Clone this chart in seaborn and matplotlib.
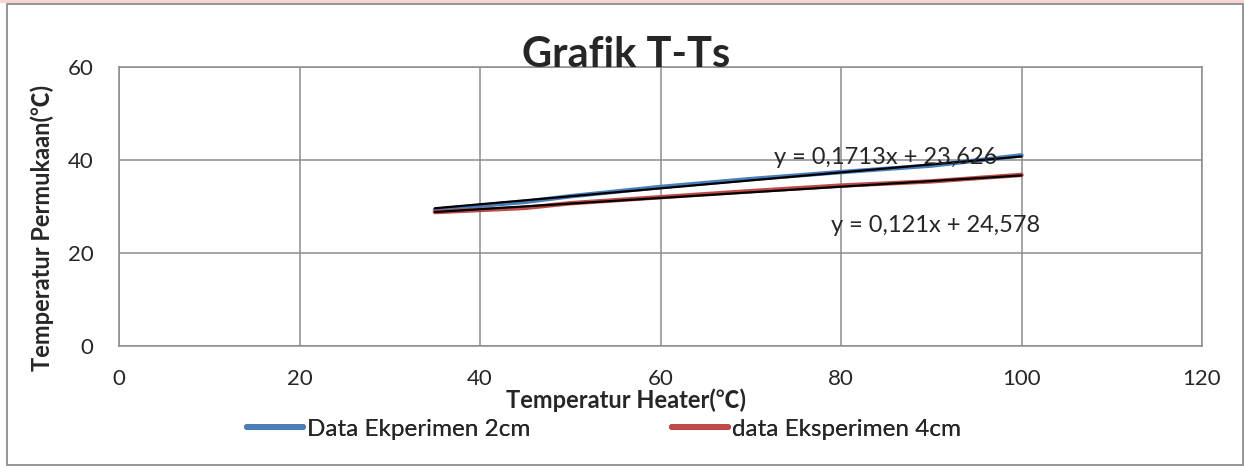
import numpy as np
import pandas as pd
import matplotlib
matplotlib.use("Agg")
import matplotlib.pyplot as plt
from matplotlib.patches import Rectangle
import seaborn as sns

# data
heater = [35, 45, 50, 60, 70, 80, 90, 100]
surface_2cm = [29.3, 31.0, 32.2, 34.2, 35.9, 37.4, 38.8, 41.0]
surface_4cm = [28.8, 29.7, 30.7, 32.0, 33.3, 34.5, 35.4, 36.8]
series_names = ["Data Ekperimen 2cm", "data Eksperimen 4cm"]

# linear trendlines as printed on the chart
trend_slope = [0.1713, 0.121]
trend_intercept = [23.626, 24.578]
trend_labels = ["y = 0,1713x + 23,626", "y = 0,121x + 24,578"]

x_ticks = [0, 20, 40, 60, 80, 100, 120]
y_ticks = [0, 20, 40, 60]

sns.set_style("white")
plt.rcParams["font.family"] = ["Lato", "Noto Sans CJK SC", "DejaVu Sans"]

W, H = 1244, 466
fig = plt.figure(figsize=(W / 100, H / 100), dpi=100)


def fx(px):
    return px / W


def fy(py):
    return 1 - py / H


# page strip + chart border
fig.patches.append(Rectangle((0, fy(2.5)), 1, 2.5 / H, transform=fig.transFigure,
                             facecolor="#f8d4d4", edgecolor="none", zorder=0))
fig.patches.append(Rectangle((fx(7), fy(465)), fx(1236), (465 - 3.5) / H,
                             transform=fig.transFigure, facecolor="none",
                             edgecolor="#8c8c8c", linewidth=1.3, zorder=1))

AX_L, AX_R, AX_T, AX_B = 119, 1202, 67, 346
ax = fig.add_axes([fx(AX_L), fy(AX_B), fx(AX_R - AX_L), (AX_B - AX_T) / H])

df = pd.DataFrame({
    "heater": heater * 2,
    "surface": surface_2cm + surface_4cm,
    "series": [series_names[0]] * len(heater) + [series_names[1]] * len(heater),
})
palette = {series_names[0]: "#4a7ebb", series_names[1]: "#be4b48"}
sns.lineplot(data=df, x="heater", y="surface", hue="series", palette=palette,
             linewidth=3.2, ax=ax, sort=False, solid_capstyle="round", legend=False)

x_fit = np.array([min(heater), max(heater)])
for m, b in zip(trend_slope, trend_intercept):
    sns.lineplot(x=x_fit, y=m * x_fit + b, color="black", linewidth=1.6,
                 ax=ax, legend=False)

ax.set_xlim(0, 120)
ax.set_ylim(0, 60)
ax.set_xticks(x_ticks)
ax.set_yticks(y_ticks)
ax.grid(True, color="#8c8c8c", linewidth=1.1)
ax.set_axisbelow(True)
for s in ax.spines.values():
    s.set_color("#8c8c8c")
    s.set_linewidth(1.1)
ax.tick_params(axis="x", length=0, pad=16.5, labelsize=16)
ax.tick_params(axis="y", length=0, pad=18.5, labelsize=16)


def ax_frac(px, py):
    return (px - AX_L) / (AX_R - AX_L), (AX_B - py) / (AX_B - AX_T)


ax.set_xlabel("Temperatur Heater(℃)", fontsize=17, fontweight="bold")
ax.set_ylabel("Temperatur Permukaan(℃)", fontsize=17, fontweight="bold")
ax.xaxis.set_label_coords(*ax_frac(626, 388))
# rotated ylabel is anchored on its right-hand side
ax.yaxis.set_label_coords(*ax_frac(54, 228))

# trendline equations
ax.text(*ax_frac(886, 158), trend_labels[0], fontsize=17, ha="center", va="center",
        transform=ax.transAxes, zorder=5)
ax.text(*ax_frac(936, 225), trend_labels[1], fontsize=17, ha="center", va="center",
        transform=ax.transAxes, zorder=5)

fig.text(fx(626), fy(67), "Grafik T-Ts", fontsize=30, fontweight="bold",
         ha="center", va="baseline")

# legend entries placed where the reference has them
for name, left in zip(series_names, [247, 672]):
    h = plt.Line2D([], [], color=palette[name], linewidth=4.3, solid_capstyle="round")
    leg = fig.legend([h], [name], loc="center left", bbox_to_anchor=(fx(left), fy(429)),
                     frameon=False, fontsize=17.5, handlelength=2.3, handletextpad=0.17,
                     borderpad=0, borderaxespad=0)
    fig.add_artist(leg)

fig.savefig("out.png", dpi=100)
